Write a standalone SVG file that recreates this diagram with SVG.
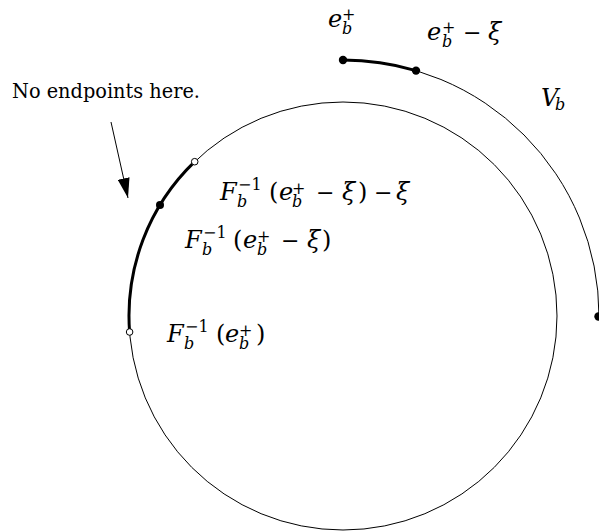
<svg xmlns="http://www.w3.org/2000/svg" width="599" height="531" viewBox="0 0 599 531">
<style>
.t{font-family:"DejaVu Serif",serif;fill:#000}
.m{font-size:24px}
.i{font-style:italic}
.s{font-size:16px}
.op{font-size:22px;font-style:normal}
.thin{fill:none;stroke:#000;stroke-width:1}
.thick{fill:none;stroke:#000;stroke-width:3}
.dot{fill:#000;stroke:none}
.open{fill:#fff;stroke:#000;stroke-width:1}
</style>
<defs>
<marker id="ah" markerWidth="20" markerHeight="12" refX="20" refY="6" orient="auto" markerUnits="userSpaceOnUse">
<path d="M0,0 L20,6 L0,12 Z" fill="#000"/>
</marker>
</defs>
<g id="inner-circle">
<circle class="thin" cx="343" cy="316" r="214"/>
<path class="thick" d="M129.6 332 A214 214 0 0 1 194.7 161.7"/>
<circle class="dot" cx="160" cy="205.1" r="4"/>
<circle class="open" cx="129.6" cy="332" r="3.3"/>
<circle class="open" cx="194.7" cy="161.7" r="3.3"/>
</g>
<g id="outer-arc">
<path class="thin" d="M343 60 A256 256 0 0 1 599 316"/>
<path class="thick" d="M343 60 A256 256 0 0 1 416 70.6"/>
<circle class="dot" cx="343" cy="60" r="4.2"/>
<circle class="dot" cx="416" cy="70.6" r="4.2"/>
<circle class="dot" cx="598.5" cy="316.5" r="4.2"/>
</g>
<g id="connectors">
<line x1="111" y1="122" x2="128" y2="198" stroke="#000" stroke-width="1" marker-end="url(#ah)"/>
</g>
<g id="note">
<text class="t" x="12" y="98" font-size="19.5" textLength="188" lengthAdjust="spacingAndGlyphs">No endpoints here.</text>
</g>
<g id="label-e">
<text class="t m i" x="328" y="27">e<tspan class="s" font-style="normal" x="342" y="20">+</tspan><tspan class="s" x="342" y="34">b</tspan></text>
</g>
<g id="label-e-xi">
<text class="t m i" x="427" y="40">e<tspan class="s" font-style="normal" x="442" y="33">+</tspan><tspan class="s" x="442" y="47">b</tspan><tspan class="op" x="463" y="40">−</tspan><tspan x="488" y="40">ξ</tspan></text>
</g>
<g id="label-Vb">
<text class="t m i" x="541" y="106">V<tspan class="s" x="555" y="110">b</tspan></text>
</g>
<g id="label-F1">
<text class="t m i" x="220" y="200">F<tspan class="s" font-style="normal" x="238" y="190">−1</tspan><tspan class="s" x="237" y="207">b</tspan><tspan font-style="normal" x="269" y="200">(</tspan><tspan x="279" y="200">e</tspan><tspan class="s" font-style="normal" x="292" y="194">+</tspan><tspan class="s" x="292" y="207">b</tspan><tspan class="op" x="316" y="200">−</tspan><tspan x="342" y="200">ξ</tspan><tspan font-style="normal" x="358" y="200">)</tspan><tspan class="op" x="374" y="200">−</tspan><tspan x="396" y="200">ξ</tspan></text>
</g>
<g id="label-F2">
<text class="t m i" x="185" y="248">F<tspan class="s" font-style="normal" x="203" y="238">−1</tspan><tspan class="s" x="202" y="255">b</tspan><tspan font-style="normal" x="233" y="248">(</tspan><tspan x="243" y="248">e</tspan><tspan class="s" font-style="normal" x="257" y="242">+</tspan><tspan class="s" x="257" y="255">b</tspan><tspan class="op" x="281" y="248">−</tspan><tspan x="307" y="248">ξ</tspan><tspan font-style="normal" x="322" y="248">)</tspan></text>
</g>
<g id="label-F3">
<text class="t m i" x="167" y="342">F<tspan class="s" font-style="normal" x="185" y="332">−1</tspan><tspan class="s" x="184" y="349">b</tspan><tspan font-style="normal" x="216" y="342">(</tspan><tspan x="225" y="342">e</tspan><tspan class="s" font-style="normal" x="239" y="336">+</tspan><tspan class="s" x="239" y="349">b</tspan><tspan font-style="normal" x="256" y="342">)</tspan></text>
</g>
</svg>
